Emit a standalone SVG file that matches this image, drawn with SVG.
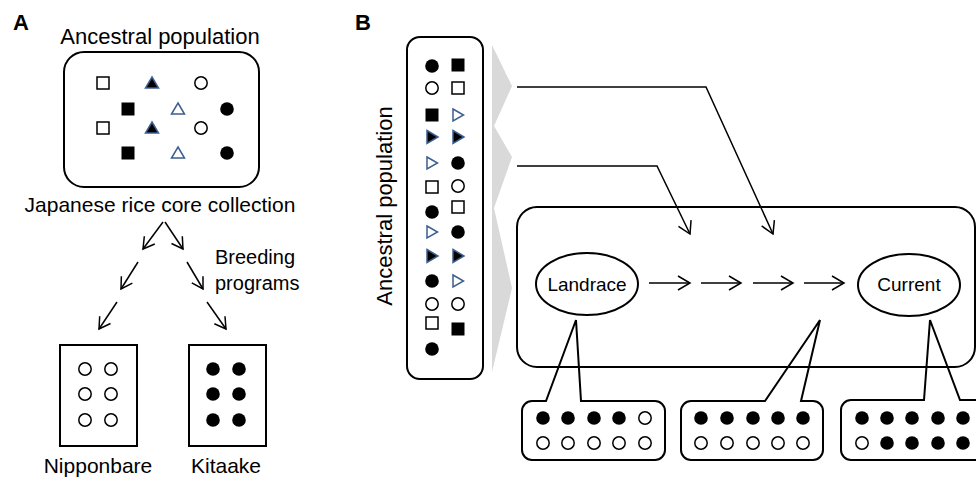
<svg xmlns="http://www.w3.org/2000/svg" xmlns:xlink="http://www.w3.org/1999/xlink" width="976" height="481" viewBox="0 0 976 481">
<style>
text{font-family:"Liberation Sans",Arial,sans-serif;fill:#000}
.lbl{font-weight:bold;font-size:22px}
.box{fill:none;stroke:#000;stroke-width:2}
.conn{fill:none;stroke:#000;stroke-width:1.5}
</style>
<defs>
<marker id="ah" viewBox="-2 -2 16 18" refX="12" refY="7" markerWidth="16" markerHeight="18" markerUnits="userSpaceOnUse" orient="auto"><path d="M0,0 L12,7 L0,14" fill="none" stroke="#000" stroke-width="1.5"/></marker>
<marker id="ahs" viewBox="-2 -2 15 17" refX="11" refY="6.5" markerWidth="15" markerHeight="17" markerUnits="userSpaceOnUse" orient="auto"><path d="M0,0 L11,6.5 L0,13" fill="none" stroke="#000" stroke-width="1.5"/></marker>
<circle id="fc" r="6.8" fill="#000"/>
<circle id="oc" r="6.2" fill="#fff" stroke="#000" stroke-width="1.5"/>
<rect id="fs" x="-6.5" y="-6.5" width="13" height="13" fill="#000"/>
<rect id="os" x="-6" y="-6" width="12" height="12" fill="#fff" stroke="#000" stroke-width="1.5"/>
<polygon id="ftu" points="0,-6 6.5,5 -6.5,5" fill="#000" stroke="#3d5f8f" stroke-width="1.5"/>
<polygon id="otu" points="0,-6 6.5,5 -6.5,5" fill="#fff" stroke="#3d5f8f" stroke-width="1.5"/>
<polygon id="ftr" points="-5,-6.5 6,0 -5,6.5" fill="#000" stroke="#3d5f8f" stroke-width="1.5"/>
<polygon id="otr" points="-5,-6 5.5,0 -5,6" fill="#fff" stroke="#3d5f8f" stroke-width="1.5"/>
</defs>

<!-- Panel A -->
<text class="lbl" x="13" y="30">A</text>
<g id="a-ancestral">
<text x="160" y="44" text-anchor="middle" font-size="22">Ancestral population</text>
<rect class="box" x="64" y="52" width="195" height="135" rx="20"/>
<use href="#os" x="103" y="83"/><use href="#ftu" x="152" y="83"/><use href="#oc" x="201" y="83"/>
<use href="#fs" x="128" y="109"/><use href="#otu" x="178" y="109"/><use href="#fc" x="227" y="109"/>
<use href="#os" x="103" y="128"/><use href="#ftu" x="152" y="128"/><use href="#oc" x="201" y="128"/>
<use href="#fs" x="128" y="153"/><use href="#otu" x="178" y="153"/><use href="#fc" x="227" y="153"/>
</g>
<g id="a-core"><text x="160" y="212" text-anchor="middle" font-size="21">Japanese rice core collection</text></g>
<g id="a-breeding"><text x="215" y="264" font-size="20">Breeding</text><text x="215" y="290" font-size="20">programs</text></g>
<g id="a-nipponbare">
<rect class="box" x="60" y="345" width="77" height="101"/>
<use href="#oc" x="85" y="369"/><use href="#oc" x="111" y="369"/>
<use href="#oc" x="85" y="394"/><use href="#oc" x="111" y="394"/>
<use href="#oc" x="85" y="420"/><use href="#oc" x="111" y="420"/>
<text x="98" y="473" text-anchor="middle" font-size="21">Nipponbare</text>
</g>
<g id="a-kitaake">
<rect class="box" x="189" y="345" width="77" height="101"/>
<use href="#fc" x="213" y="369"/><use href="#fc" x="239" y="369"/>
<use href="#fc" x="213" y="394"/><use href="#fc" x="239" y="394"/>
<use href="#fc" x="213" y="420"/><use href="#fc" x="239" y="420"/>
<text x="226" y="473" text-anchor="middle" font-size="21">Kitaake</text>
</g>
<g id="a-connectors">
<line class="conn" x1="163" y1="222" x2="143" y2="249" marker-end="url(#ahs)"/>
<line class="conn" x1="165" y1="222" x2="183" y2="249" marker-end="url(#ahs)"/>
<line class="conn" x1="138" y1="262" x2="121" y2="289" marker-end="url(#ahs)"/>
<line class="conn" x1="187" y1="262" x2="203" y2="289" marker-end="url(#ahs)"/>
<line class="conn" x1="117" y1="302" x2="99" y2="329" marker-end="url(#ahs)"/>
<line class="conn" x1="207" y1="302" x2="226" y2="329" marker-end="url(#ahs)"/>
</g>

<!-- Panel B -->
<text class="lbl" x="355" y="30">B</text>
<g id="b-ancestral">
<text transform="translate(392,206) rotate(-90)" text-anchor="middle" font-size="22">Ancestral population</text>
<rect class="box" x="407" y="37" width="76" height="342" rx="13"/>
<use href="#fc" x="432" y="66"/><use href="#oc" x="432" y="88"/><use href="#fs" x="432" y="115"/><use href="#ftr" x="432" y="137"/>
<use href="#otr" x="432" y="163"/><use href="#os" x="432" y="187"/><use href="#fc" x="432" y="212"/><use href="#otr" x="432" y="232"/>
<use href="#ftr" x="432" y="256"/><use href="#fc" x="432" y="281"/><use href="#oc" x="432" y="304"/><use href="#os" x="432" y="323"/>
<use href="#fc" x="432" y="349"/>
<use href="#fs" x="458" y="65"/><use href="#os" x="458" y="88"/><use href="#otr" x="458" y="115"/><use href="#ftr" x="458" y="137"/>
<use href="#fc" x="458" y="163"/><use href="#oc" x="458" y="186"/><use href="#os" x="458" y="207"/><use href="#fc" x="458" y="232"/>
<use href="#ftr" x="458" y="256"/><use href="#otr" x="458" y="281"/><use href="#oc" x="458" y="304"/><use href="#fs" x="458" y="329"/>
</g>
<g id="b-chevrons"><polygon points="492,45 512,86 494,126 512,157 494,208 512,288 492,372" fill="#d9d9d9"/></g>
<g id="b-breeding">
<rect class="box" x="517" y="207" width="458" height="160" rx="20"/>
</g>
<g id="b-landrace">
<ellipse cx="587" cy="284" rx="51" ry="31" fill="#fff" stroke="#000" stroke-width="2"/>
<text x="587" y="291" text-anchor="middle" font-size="19">Landrace</text>
</g>
<g id="b-current">
<ellipse cx="909" cy="285" rx="51" ry="31" fill="#fff" stroke="#000" stroke-width="2"/>
<text x="909" y="291" text-anchor="middle" font-size="19">Current</text>
</g>
<g id="b-callout1">
<path class="box" d="M532,401 H546 L576,320 L581,401 H655 A10,10 0 0 1 665,411 V450 A10,10 0 0 1 655,460 H532 A10,10 0 0 1 522,450 V411 A10,10 0 0 1 532,401 Z" fill="#fff"/>
<use href="#fc" x="543" y="418"/><use href="#fc" x="568" y="418"/><use href="#fc" x="594" y="418"/><use href="#fc" x="619" y="418"/><use href="#oc" x="645" y="418"/>
<use href="#oc" x="543" y="443"/><use href="#oc" x="568" y="443"/><use href="#oc" x="594" y="443"/><use href="#oc" x="619" y="443"/><use href="#oc" x="645" y="443"/>
</g>
<g id="b-callout2">
<path class="box" d="M691,401 H765 L820,320 L801,401 H813 A10,10 0 0 1 823,411 V450 A10,10 0 0 1 813,460 H691 A10,10 0 0 1 681,450 V411 A10,10 0 0 1 691,401 Z" fill="#fff"/>
<use href="#fc" x="701" y="418"/><use href="#fc" x="727" y="418"/><use href="#fc" x="753" y="418"/><use href="#fc" x="778" y="418"/><use href="#fc" x="803" y="418"/>
<use href="#oc" x="701" y="443"/><use href="#oc" x="727" y="443"/><use href="#oc" x="753" y="443"/><use href="#oc" x="778" y="443"/><use href="#oc" x="803" y="443"/>
</g>
<g id="b-callout3">
<path class="box" d="M851,400 H924 L930,320 L960,400 H975 A10,10 0 0 1 985,410 V450 A10,10 0 0 1 975,460 H851 A10,10 0 0 1 841,450 V410 A10,10 0 0 1 851,400 Z" fill="#fff"/>
<use href="#fc" x="862" y="418"/><use href="#fc" x="887" y="418"/><use href="#fc" x="912" y="418"/><use href="#fc" x="938" y="418"/><use href="#fc" x="963" y="418"/>
<use href="#oc" x="862" y="443"/><use href="#fc" x="887" y="443"/><use href="#fc" x="912" y="443"/><use href="#fc" x="938" y="443"/><use href="#fc" x="963" y="443"/>
</g>
<g id="b-connectors">
<path class="conn" d="M517,87 H706 L773,234" marker-end="url(#ah)"/>
<path class="conn" d="M517,166 H657 L690,234" marker-end="url(#ah)"/>
<line class="conn" x1="649" y1="283" x2="690" y2="283" marker-end="url(#ah)"/>
<line class="conn" x1="701" y1="283" x2="741" y2="283" marker-end="url(#ah)"/>
<line class="conn" x1="753" y1="283" x2="793" y2="283" marker-end="url(#ah)"/>
<line class="conn" x1="804" y1="283" x2="844" y2="283" marker-end="url(#ah)"/>
</g>
</svg>
